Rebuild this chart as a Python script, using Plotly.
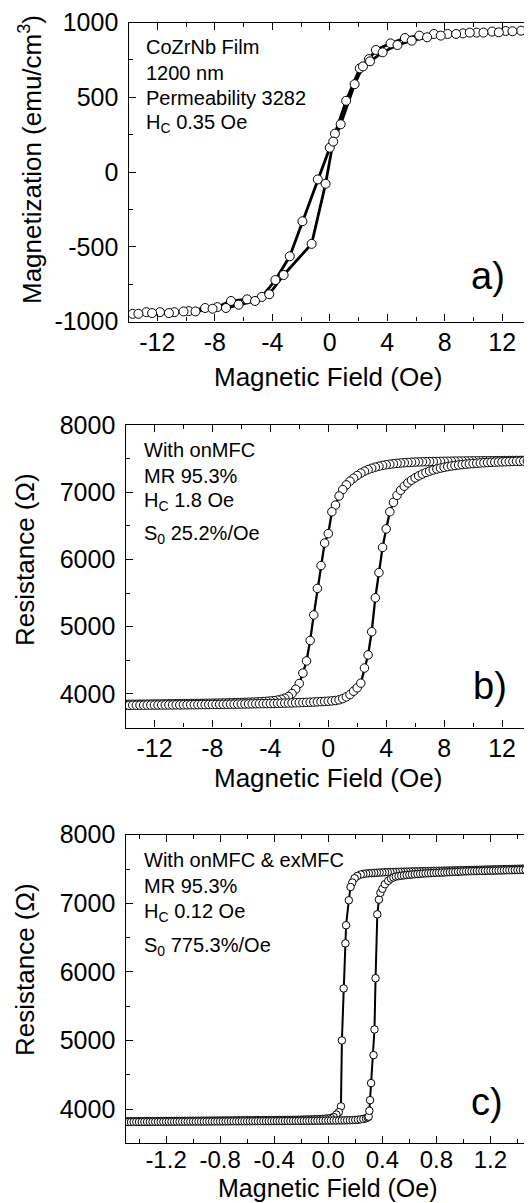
import plotly.graph_objects as go

# page body margin of the viewer is compensated: figure drawn 8 px in from top/left
OFF = 8
FW, FH = 532 - OFF, 1203 - OFF
FONT = "Liberation Sans, Arial, sans-serif"

# ---------------- Panel a: magnetization loop ----------------
a_down_field = [13.31, 12.24, 11.29, 10.22, 9.27, 8.20, 7.25, 6.23, 5.23, 4.23,
                3.21, 2.73, 2.09, 1.14, 0.36, 0.0, -0.83, -1.90, -2.78, -3.78,
                -4.73, -5.75, -6.87, -7.82, -8.67, -9.81, -10.81, -11.81, -12.76, -13.71]
a_down_mag = [946, 944, 940, 933, 928, 924, 924, 913, 897, 861,
              817, 756, 694, 477, 257, 163, -49, -329, -563, -722,
              -835, -851, -862, -903, -909, -930, -937, -937, -937, -948]
a_up_field = [-13.31, -12.36, -11.19, -10.17, -9.34, -8.15, -7.22, -6.34, -5.20, -4.21,
              -3.21, -1.26, -0.29, 0.24, 0.76, 1.73, 2.31, 2.80, 3.68, 4.71,
              5.70, 6.77, 7.72, 8.79, 9.74, 10.69, 11.76, 12.71, 13.85]
a_up_mag = [-948, -943, -943, -932, -932, -914, -909, -887, -862, -817,
            -688, -480, -78, 204, 320, 588, 707, 741, 801, 850,
            879, 902, 913, 924, 933, 933, 935, 942, 951]

# ---------------- Panel b: resistance loop (onMFC) ----------------
field_b = [-14.0, -13.75, -13.5, -13.25, -13.0, -12.75, -12.5, -12.25, -12.0, -11.75,
           -11.5, -11.25, -11.0, -10.75, -10.5, -10.25, -10.0, -9.75, -9.5, -9.25,
           -9.0, -8.75, -8.5, -8.25, -8.0, -7.75, -7.5, -7.25, -7.0, -6.75,
           -6.5, -6.25, -6.0, -5.75, -5.5, -5.25, -5.0, -4.75, -4.5, -4.25,
           -4.0, -3.75, -3.5, -3.25, -3.0, -2.75, -2.5, -2.25, -2.0, -1.75,
           -1.5, -1.25, -1.0, -0.75, -0.5, -0.25, 0.0, 0.25, 0.5, 0.75,
           1.0, 1.25, 1.5, 1.75, 2.0, 2.25, 2.5, 2.75, 3.0, 3.25,
           3.5, 3.75, 4.0, 4.25, 4.5, 4.75, 5.0, 5.25, 5.5, 5.75,
           6.0, 6.25, 6.5, 6.75, 7.0, 7.25, 7.5, 7.75, 8.0, 8.25,
           8.5, 8.75, 9.0, 9.25, 9.5, 9.75, 10.0, 10.25, 10.5, 10.75,
           11.0, 11.25, 11.5, 11.75, 12.0, 12.25, 12.5, 12.75, 13.0, 13.25,
           13.5, 13.75, 14.0]
res_b_down = [3845, 3845, 3846, 3846, 3847, 3847, 3848, 3849, 3850, 3850,
              3851, 3852, 3852, 3853, 3854, 3854, 3855, 3856, 3857, 3857,
              3858, 3859, 3860, 3861, 3862, 3863, 3864, 3865, 3866, 3868,
              3869, 3871, 3872, 3874, 3876, 3878, 3880, 3883, 3886, 3890,
              3895, 3900, 3908, 3920, 3935, 3962, 4005, 4070, 4155, 4310,
              4490, 4795, 5175, 5570, 5910, 6245, 6385, 6710, 6810, 6945,
              7040, 7110, 7165, 7210, 7250, 7285, 7315, 7338, 7358, 7374,
              7388, 7400, 7410, 7418, 7425, 7431, 7436, 7440, 7444, 7447,
              7450, 7452, 7454, 7455, 7457, 7458, 7459, 7460, 7461, 7462,
              7463, 7464, 7465, 7465, 7466, 7467, 7467, 7468, 7468, 7469,
              7470, 7470, 7471, 7471, 7472, 7472, 7473, 7473, 7474, 7474,
              7474, 7475, 7475]
res_b_up = [3830, 3830, 3831, 3831, 3832, 3832, 3833, 3833, 3834, 3834,
            3835, 3835, 3836, 3836, 3837, 3837, 3838, 3838, 3839, 3839,
            3840, 3841, 3841, 3842, 3843, 3843, 3844, 3845, 3846, 3846,
            3847, 3848, 3849, 3850, 3851, 3852, 3853, 3854, 3855, 3856,
            3857, 3858, 3860, 3861, 3863, 3864, 3866, 3868, 3870, 3872,
            3874, 3876, 3879, 3882, 3885, 3888, 3892, 3896, 3902, 3912,
            3930, 3955, 3990, 4040, 4090, 4160, 4385, 4580, 4925, 5430,
            5805, 6180, 6455, 6710, 6850, 6955, 7030, 7090, 7140, 7180,
            7215, 7245, 7272, 7295, 7315, 7332, 7347, 7360, 7372, 7382,
            7391, 7399, 7406, 7412, 7418, 7423, 7428, 7432, 7436, 7440,
            7443, 7446, 7449, 7451, 7453, 7455, 7457, 7459, 7461, 7462,
            7464, 7465, 7466]

# ---------------- Panel c: resistance loop (onMFC & exMFC) ----------------
field_c = [-1.5, -1.48, -1.46, -1.44, -1.42, -1.4, -1.38, -1.36, -1.34, -1.32,
           -1.3, -1.28, -1.26, -1.24, -1.22, -1.2, -1.18, -1.16, -1.14, -1.12,
           -1.1, -1.08, -1.06, -1.04, -1.02, -1.0, -0.98, -0.96, -0.94, -0.92,
           -0.9, -0.88, -0.86, -0.84, -0.82, -0.8, -0.78, -0.76, -0.74, -0.72,
           -0.7, -0.68, -0.66, -0.64, -0.62, -0.6, -0.58, -0.56, -0.54, -0.52,
           -0.5, -0.48, -0.46, -0.44, -0.42, -0.4, -0.38, -0.36, -0.34, -0.32,
           -0.3, -0.28, -0.26, -0.24, -0.22, -0.2, -0.18, -0.16, -0.14, -0.12,
           -0.1, -0.08, -0.06, -0.04, -0.02, 0.0, 0.02, 0.04, 0.06, 0.08,
           0.1, 0.12, 0.14, 0.16, 0.18, 0.2, 0.22, 0.24, 0.26, 0.28,
           0.3, 0.32, 0.34, 0.36, 0.38, 0.4, 0.42, 0.44, 0.46, 0.48,
           0.5, 0.52, 0.54, 0.56, 0.58, 0.6, 0.62, 0.64, 0.66, 0.68,
           0.7, 0.72, 0.74, 0.76, 0.78, 0.8, 0.82, 0.84, 0.86, 0.88,
           0.9, 0.92, 0.94, 0.96, 0.98, 1.0, 1.02, 1.04, 1.06, 1.08,
           1.1, 1.12, 1.14, 1.16, 1.18, 1.2, 1.22, 1.24, 1.26, 1.28,
           1.3, 1.32, 1.34, 1.36, 1.38, 1.4, 1.42, 1.44, 1.46, 1.48,
           1.5]
res_c_down = [3822, 3822, 3822, 3823, 3823, 3823, 3824, 3824, 3824, 3825,
              3825, 3825, 3826, 3826, 3826, 3827, 3827, 3827, 3828, 3828,
              3828, 3829, 3829, 3829, 3830, 3830, 3830, 3831, 3831, 3831,
              3832, 3832, 3832, 3833, 3833, 3833, 3834, 3834, 3834, 3835,
              3835, 3835, 3836, 3836, 3836, 3837, 3837, 3837, 3838, 3838,
              3838, 3839, 3839, 3839, 3840, 3840, 3841, 3841, 3842, 3842,
              3843, 3843, 3844, 3844, 3845, 3846, 3847, 3848, 3849, 3850,
              3851, 3853, 3855, 3857, 3860, 3864, 3870, 3885, 3920, None,
              None, None, None, None, None, None, None, 7420, 7428, 7434,
              7438, 7441, 7444, 7446, 7448, 7450, 7452, 7454, 7455, 7457,
              7458, 7459, 7460, 7461, 7462, 7463, 7464, 7465, 7466, 7467,
              7468, 7469, 7470, 7471, 7472, 7473, 7474, 7475, 7476, 7477,
              7478, 7479, 7480, 7481, 7482, 7483, 7484, 7485, 7486, 7487,
              7488, 7489, 7490, 7491, 7492, 7493, 7494, 7495, 7496, 7497,
              7498, 7499, 7500, 7501, 7502, 7503, 7504, 7505, 7506, 7507,
              7508]
res_c_up = [3812, 3812, 3812, 3813, 3813, 3813, 3813, 3814, 3814, 3814,
            3814, 3815, 3815, 3815, 3815, 3816, 3816, 3816, 3816, 3817,
            3817, 3817, 3817, 3818, 3818, 3818, 3818, 3819, 3819, 3819,
            3819, 3820, 3820, 3820, 3820, 3821, 3821, 3821, 3821, 3822,
            3822, 3822, 3822, 3823, 3823, 3823, 3823, 3824, 3824, 3824,
            3824, 3825, 3825, 3825, 3825, 3826, 3826, 3826, 3826, 3827,
            3827, 3827, 3828, 3828, 3828, 3829, 3829, 3829, 3830, 3830,
            3830, 3831, 3831, 3832, 3832, 3833, 3833, 3834, 3834, 3835,
            3835, 3836, 3837, 3838, 3840, 3842, 3845, 3850, 3857, None,
            None, None, None, None, None, None, None, None, None, None,
            7390, 7396, 7402, 7407, 7412, 7416, 7420, 7424, 7427, 7430,
            7433, 7436, 7438, 7440, 7442, 7444, 7446, 7448, 7450, 7452,
            7454, 7456, 7458, 7460, 7462, 7464, 7466, 7467, 7468, 7469,
            7470, 7471, 7472, 7473, 7474, 7475, 7476, 7477, 7478, 7479,
            7480, 7481, 7482, 7483, 7484, 7485, 7486, 7487, 7488, 7489,
            7490]
c_down_sw_field = [0.215, 0.195, 0.178, 0.165, 0.152, 0.132, 0.127, 0.114, 0.101, 0.094, 0.078]
c_down_sw_res = [7398, 7365, 7303, 7238, 7044, 6680, 6416, 5759, 5001, 4040, 3955]
c_up_sw_field = [0.279, 0.292, 0.299, 0.304, 0.309, 0.317, 0.335, 0.342, 0.350, 0.363,
                 0.375, 0.386, 0.401, 0.419, 0.444, 0.465, 0.482]
c_up_sw_res = [3866, 3880, 3891, 3975, 4130, 4379, 4787, 5161, 5908, 6839,
               7054, 7153, 7213, 7278, 7328, 7360, 7377]

# ---------------- Ticks and texts ----------------
ab_x_ticks = [-12, -8, -4, 0, 4, 8, 12]
ab_x_labels = ["-12", "-8", "-4", "0", "4", "8", "12"]
c_x_ticks = [-1.2, -0.8, -0.4, 0.0, 0.4, 0.8, 1.2]
c_x_labels = ["-1.2", "-0.8", "-0.4", "0.0", "0.4", "0.8", "1.2"]
a_y_ticks = [-1000, -500, 0, 500, 1000]
a_y_labels = ["-1000", "-500", "0", "500", "1000"]
bc_y_ticks = [4000, 5000, 6000, 7000, 8000]
bc_y_labels = ["4000", "5000", "6000", "7000", "8000"]

a_notes = ["CoZrNb Film", "1200 nm", "Permeability 3282", "H<sub>C</sub> 0.35 Oe"]
b_notes = ["With onMFC", "MR 95.3%", "H<sub>C</sub> 1.8 Oe", "S<sub>0</sub> 25.2%/Oe"]
c_notes = ["With onMFC &amp; exMFC", "MR 95.3%", "H<sub>C</sub> 0.12 Oe", "S<sub>0</sub> 775.3%/Oe"]
x_title = "Magnetic Field (Oe)"
a_y_title = "Magnetization (emu/cm<sup>3</sup>)"
bc_y_title = "Resistance (Ω)"
panel_tags = ["a)", "b)", "c)"]


def merge(grid, vals, sw_f, sw_v, descending):
    pts = [(f, v) for f, v in zip(grid, vals) if v is not None] + list(zip(sw_f, sw_v))
    pts.sort(key=lambda p: p[0], reverse=descending)
    return [p[0] for p in pts], [p[1] for p in pts]


c_down_x, c_down_y = merge(field_c, res_c_down, c_down_sw_field, c_down_sw_res, True)
c_up_x, c_up_y = merge(field_c, res_c_up, c_up_sw_field, c_up_sw_res, False)
b_down_x, b_down_y = field_b[::-1], res_b_down[::-1]
b_up_x, b_up_y = field_b, res_b_up

fig = go.Figure()


def add_loop(branches, xa, ya, lw, ms):
    for bx, by in branches:
        fig.add_trace(go.Scatter(x=bx, y=by, mode="lines", xaxis=xa, yaxis=ya,
                                 line=dict(color="black", width=lw),
                                 showlegend=False, hoverinfo="skip"))
    for bx, by in branches:
        fig.add_trace(go.Scatter(x=bx, y=by, mode="markers", xaxis=xa, yaxis=ya,
                                 marker=dict(symbol="circle", size=ms, color="white",
                                             line=dict(color="black", width=1)),
                                 showlegend=False, hoverinfo="skip"))


add_loop([(a_down_field, a_down_mag), (a_up_field, a_up_mag)], "x", "y", 2.8, 9)
add_loop([(b_down_x, b_down_y), (b_up_x, b_up_y)], "x2", "y2", 2.3, 8.5)
add_loop([(c_down_x, c_down_y), (c_up_x, c_up_y)], "x3", "y3", 2.0, 7.5)


def px_x(p):
    return (p - OFF) / FW


def px_y(p):
    return 1 - (p - OFF) / FH


LW = 1.3


def xaxis(dom, anchor, rng, tv, tt, minor_dtick, fsize=25, standoff=-2):
    return dict(domain=dom, anchor=anchor, range=rng, tickmode="array", tickvals=tv, ticktext=tt,
                showline=True, linecolor="black", linewidth=LW, mirror="allticks",
                ticks="inside", ticklen=7, tickwidth=LW, tickcolor="black",
                showgrid=False, zeroline=False, ticklabelstandoff=standoff, automargin=False,
                tickfont=dict(family=FONT, size=fsize, color="black"),
                minor=dict(ticks="inside", ticklen=4, tickwidth=LW, tickcolor="black",
                           dtick=minor_dtick, tick0=0, showgrid=False))


def yaxis(dom, anchor, rng, tv, tt, minor_dtick):
    return xaxis(dom, anchor, rng, tv, tt, minor_dtick, 25, 4)


ya_dom = [px_y(321.6), px_y(22.6)]
yb_dom = [px_y(727.5), px_y(425.1)]
yc_dom = [px_y(1143.4), px_y(834.7)]

fig.update_layout(
    template="none",
    width=FW, height=FH, margin=dict(l=0, r=0, t=0, b=0, autoexpand=False),
    paper_bgcolor="white", plot_bgcolor="white",
    font=dict(family=FONT, color="black"),
    xaxis=xaxis([px_x(128.5), px_x(531)], "y", [-14, 14], ab_x_ticks, ab_x_labels, 2),
    yaxis=yaxis(ya_dom, "x", [-1000, 1000], a_y_ticks, a_y_labels, 250),
    xaxis2=xaxis([px_x(125.5), px_x(531)], "y2", [-14, 14], ab_x_ticks, ab_x_labels, 2),
    yaxis2=yaxis(yb_dom, "x2", [3500, 8000], bc_y_ticks, bc_y_labels, 500),
    xaxis3=xaxis([px_x(125.5), px_x(531)], "y3", [-1.5, 1.5], c_x_ticks, c_x_labels, 0.2, 24, -5),
    yaxis3=yaxis(yc_dom, "x3", [3500, 8000], bc_y_ticks, bc_y_labels, 500),
)

ann = []


def note(text, x, y, size, xanchor="left", angle=0):
    ann.append(dict(text=text, x=px_x(x), y=px_y(y), xref="paper", yref="paper",
                    xanchor=xanchor, yanchor="middle", showarrow=False, textangle=angle,
                    font=dict(family=FONT, size=size, color="black")))


for t, yy in zip(a_notes, [47, 72.5, 98, 123.5]):
    note(t, 144, yy, 20)
for t, yy in zip(b_notes, [450, 476, 501.5, 534]):
    note(t, 142, yy, 20)
for t, yy in zip(c_notes, [860, 886, 912, 946]):
    note(t, 142, yy, 20)

note(x_title, 328, 377, 26, xanchor="center")
note(x_title, 328, 778, 26, xanchor="center")
note(x_title, 328, 1187.5, 25, xanchor="center")
note(a_y_title, 30, 160, 26, xanchor="center", angle=-90)
note(bc_y_title, 25, 560, 26, xanchor="center", angle=-90)
note(bc_y_title, 25, 970, 26, xanchor="center", angle=-90)

for t, (xx, yy) in zip(panel_tags, [(488, 276), (490, 686), (487, 1102)]):
    note(t, xx, yy, 38, xanchor="center")

fig.update_layout(annotations=ann)
fig.write_html("out.html")
